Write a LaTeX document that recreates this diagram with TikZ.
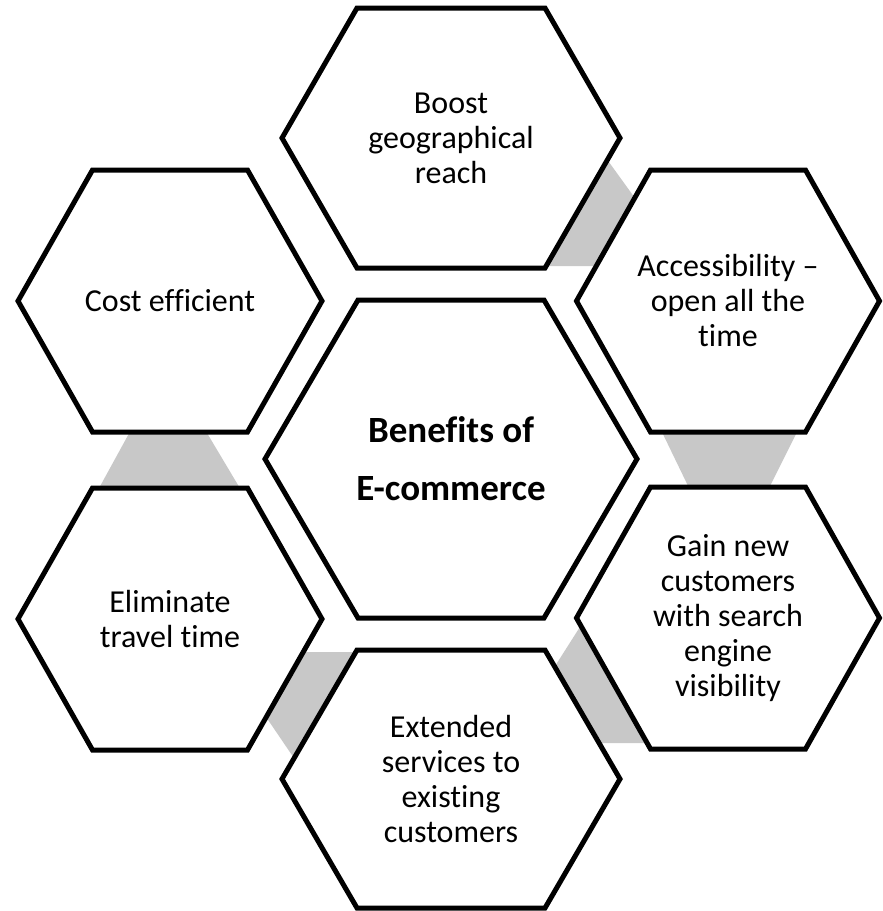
\documentclass[tikz,border=0pt]{standalone}
\usepackage{fontspec}
\setmainfont{Carlito}[Ligatures={NoCommon}]
\usetikzlibrary{positioning}
\definecolor{linkgray}{RGB}{200,200,200}
\pgfdeclarelayer{links}
\pgfdeclarelayer{cells}
\pgfsetlayers{links,cells,main}

\tikzset{
  hexline/.style={draw=black, line width=5pt, line join=miter, fill=white},
  hexlabel/.style={align=center, inner sep=0pt, font=\fontsize{32}{35}\selectfont},
  hublabel/.style={align=center, inner sep=0pt, font=\fontsize{37}{58}\selectfont\bfseries},
  linkband/.style={fill=linkgray, draw=none},
}
% hexagon round a node: #1 node, #2 half width, #3 half height, #4 half top edge
\newcommand{\hexcell}[4]{%
  \draw[hexline] (#1.center) ++(-#2,0) -- ++({#2-#4},-#3) -- ++({2*#4},0)
    -- ++({#2-#4},#3) -- ++({#4-#2},#3) -- ++({-2*#4},0) -- cycle;}

\begin{document}
\begin{tikzpicture}[x=1pt, y=-1pt]
  \useasboundingbox (0,0) rectangle (883,911);

  % labels
  \node[hublabel] (hub) at (451,459) {Benefits of\\E-commerce};
  \node[hexlabel] (boost) at (451,138) {Boost\\geographical\\reach};
  \node[hexlabel] (access) at (728,301) {Accessibility --\\open all the\\time};
  \node[hexlabel] (gain) at (728,618) {Gain new\\customers\\with search\\engine\\visibility};
  \node[hexlabel] (extend) at (451,779) {Extended\\services to\\existing\\customers};
  \node[hexlabel] (travel) at (170,619) {Eliminate\\travel time};
  \node[hexlabel] (cost) at (170,301) {Cost efficient};

  % hexagons
  \begin{pgfonlayer}{cells}
    \hexcell{hub}{186}{159}{93}
    \hexcell{boost}{169}{130}{94}
    \hexcell{access}{151.5}{131}{77.5}
    \hexcell{gain}{151.5}{131}{77.5}
    \hexcell{extend}{169}{129}{94}
    \hexcell{travel}{152}{131}{77.5}
    \hexcell{cost}{152}{131}{77.5}
  \end{pgfonlayer}

  % grey bands between neighbours
  \begin{pgfonlayer}{links}
    \fill[linkband] ([shift={(155,20)}]boost.center) -- ([shift={(-83,-89)}]access.center)
      -- ([shift={(-128,-35)}]access.center) -- ([shift={(89,128)}]boost.center) -- cycle;
    \fill[linkband] ([shift={(-68,127)}]access.center) -- ([shift={(71,127)}]access.center)
      -- ([shift={(40,-128)}]gain.center) -- ([shift={(-38,-128)}]gain.center) -- cycle;
    \fill[linkband] ([shift={(99,-105)}]extend.center) -- ([shift={(-143,1)}]gain.center)
      -- ([shift={(-73,125)}]gain.center) -- ([shift={(144,-36)}]extend.center) -- cycle;
    \fill[linkband] ([shift={(128,33)}]travel.center) -- ([shift={(-89,-127)}]extend.center)
      -- ([shift={(-151,-12)}]extend.center) -- ([shift={(92,92)}]travel.center) -- cycle;
    \fill[linkband] ([shift={(-38,127)}]cost.center) -- ([shift={(34,127)}]cost.center)
      -- ([shift={(71,-129)}]travel.center) -- ([shift={(-72,-129)}]travel.center) -- cycle;
  \end{pgfonlayer}
\end{tikzpicture}
\end{document}
